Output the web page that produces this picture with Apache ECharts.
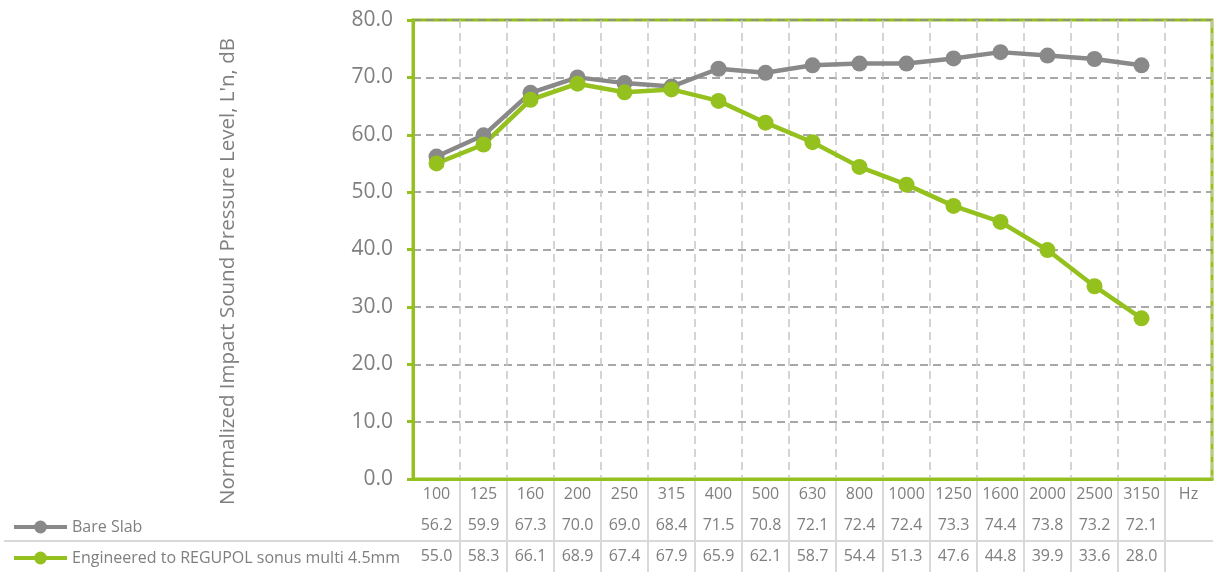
<!DOCTYPE html>
<html>
<head>
<meta charset="utf-8">
<script src="https://cdn.jsdelivr.net/npm/echarts@6/dist/echarts.min.js"></script>
<style>
  html, body { margin: 0; padding: 0; background: #fff; }
  #chart { width: 1215px; height: 572px; }
</style>
</head>
<body>
<div id="chart"></div>
<script>
// frequency bands (last column is the unit cell)
const bands = ['100', '125', '160', '200', '250', '315', '400', '500', '630', '800', '1000', '1250', '1600', '2000', '2500', '3150', 'Hz']
const bareSlab = [56.2, 59.9, 67.3, 70.0, 69.0, 68.4, 71.5, 70.8, 72.1, 72.4, 72.4, 73.3, 74.4, 73.8, 73.2, 72.1]
const regupol = [55.0, 58.3, 66.1, 68.9, 67.4, 67.9, 65.9, 62.1, 58.7, 54.4, 51.3, 47.6, 44.8, 39.9, 33.6, 28.0]
const seriesNames = ['Bare Slab', 'Engineered to REGUPOL sonus multi 4.5mm']

const GREEN = '#95c11f'
const GREY = '#898989'
const TEXT = '#7f7f7f'
const FONT = 'Open Sans'

const myChart = echarts.init(document.getElementById('chart'))

// table rows as extra category axes, padded for the Hz column
const rowLabels = arr => arr.map(v => v.toFixed(1)).concat([''])

const tableAxis = (data, offset) => ({
  type: 'category',
  data,
  position: 'bottom',
  offset,
  boundaryGap: true,
  axisLine: { show: false },
  axisTick: { show: false },
  splitLine: { show: false },
  axisLabel: { color: TEXT, fontSize: 16, fontFamily: FONT, margin: 7, interval: 0 },
})

const legendBase = {
  itemWidth: 53, itemHeight: 16, itemGap: 5,
  lineStyle: { width: 4 },
  textStyle: { color: TEXT, fontSize: 16, fontFamily: FONT },
}

const option = {
  animation: false,
  grid: {
    left: 413,
    right: 3,
    top: 20,
    bottom: 93,
    show: true,
    borderColor: GREEN,
    borderWidth: 3,
  },
  legend: [
    Object.assign({ data: [seriesNames[0]], left: 7, top: 514 }, legendBase),
    Object.assign({ data: [seriesNames[1]], left: 7, top: 545 }, legendBase),
  ],
  xAxis: [
    {
      type: 'category',
      data: bands,
      boundaryGap: true,
      axisLine: { lineStyle: { color: GREEN, width: 3 } },
      axisTick: { show: false },
      axisLabel: { color: TEXT, fontSize: 16, fontFamily: FONT, margin: 7, interval: 0 },
      splitLine: {
        show: true,
        interval: 0,
        lineStyle: { color: '#c6c6c6', width: 1.5, type: [8, 5] },
      },
    },
    tableAxis(rowLabels(bareSlab), 31),
    tableAxis(rowLabels(regupol), 62),
  ],
  yAxis: {
    type: 'value',
    min: 0,
    max: 80,
    interval: 10,
    name: "Normalized Impact Sound Pressure Level, L'n, dB",
    nameLocation: 'middle',
    nameGap: 174,
    nameTextStyle: { color: TEXT, fontSize: 20.5, fontFamily: FONT, padding: [0, 44, 0, 0] },
    axisLine: { show: true, lineStyle: { color: GREEN, width: 3 } },
    axisTick: { show: true, length: 6, lineStyle: { color: GREEN, width: 3 } },
    axisLabel: {
      color: TEXT, fontSize: 21, fontFamily: FONT, margin: 20,
      formatter: v => v.toFixed(1),
    },
    splitLine: { lineStyle: { color: '#8c8c8c', width: 1.5, type: [8, 5] } },
  },
  series: [
    {
      name: seriesNames[0],
      type: 'line',
      data: bareSlab,
      color: GREY,
      symbol: 'circle',
      symbolSize: 16,
      lineStyle: { width: 4.5, color: GREY },
      itemStyle: { color: GREY },
    },
    {
      name: seriesNames[1],
      type: 'line',
      data: regupol,
      color: GREEN,
      symbol: 'circle',
      symbolSize: 16,
      lineStyle: { width: 4.5, color: GREEN },
      itemStyle: { color: GREEN },
    },
  ],
}

myChart.setOption(option)

// data table rules, placed from the category axis scale
const c0 = myChart.convertToPixel({ xAxisIndex: 0 }, 0)
const c1 = myChart.convertToPixel({ xAxisIndex: 0 }, 1)
const half = (c1 - c0) / 2
const yBottom = myChart.convertToPixel({ yAxisIndex: 0 }, 0)
const tableLines = []
for (let i = 0; i < bands.length - 1; i++) {
  const x = myChart.convertToPixel({ xAxisIndex: 0 }, i) + half
  tableLines.push({
    type: 'line',
    shape: { x1: x, y1: yBottom + 2, x2: x, y2: 572 },
    style: { stroke: '#d9d9d9', lineWidth: 2 },
    silent: true,
  })
}
tableLines.push({
  type: 'line',
  shape: { x1: 4, y1: yBottom + 62, x2: 1213, y2: yBottom + 62 },
  style: { stroke: '#d9d9d9', lineWidth: 2 },
  silent: true,
})
myChart.setOption({ graphic: tableLines })
</script>
</body>
</html>
